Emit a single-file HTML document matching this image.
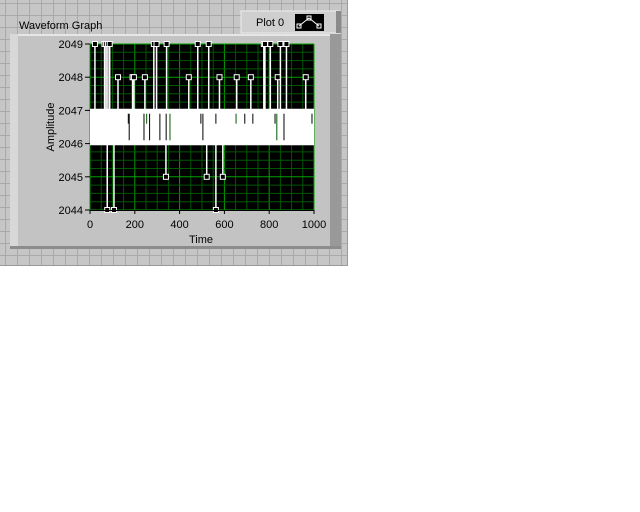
<!DOCTYPE html>
<html><head><meta charset="utf-8">
<style>
html,body{margin:0;padding:0;background:#fff;width:640px;height:512px;overflow:hidden;font-family:"Liberation Sans",sans-serif;}
#bg{position:absolute;left:0;top:0;width:347px;height:265px;background-color:#c6c6c6;
background-image:linear-gradient(to right,#a9a9a9 1px,transparent 1px),linear-gradient(to bottom,#a9a9a9 1px,transparent 1px);
background-size:12px 12px;background-position:5px 3px;border-right:1px solid #999;border-bottom:1px solid #999;}
</style></head><body>
<div id="bg"></div>
<svg width="640" height="512" style="position:absolute;left:0;top:0">
  <text x="19" y="29" font-size="11" fill="#000">Waveform Graph</text>
  <g>
    <rect x="241" y="11" width="99" height="22" fill="#cfcfcf" stroke="#eee"/>
    <rect x="336" y="11" width="5" height="22" fill="#8a8a8a"/>
    <text x="256" y="26" font-size="11" fill="#000">Plot 0</text>
    <rect x="295" y="14" width="29" height="17" fill="#000"/>
    <polyline points="299,26 309,18 319,26" fill="none" stroke="#fff" stroke-width="1"/>
    <rect x="297" y="24" width="4" height="4" fill="none" stroke="#fff"/>
    <rect x="307" y="16" width="4" height="4" fill="none" stroke="#fff"/>
    <rect x="317" y="24" width="4" height="4" fill="none" stroke="#fff"/>
  </g>
  <g>
    <rect x="10" y="34" width="331" height="215" fill="#c3c3c3"/>
    <rect x="10" y="34" width="331" height="2" fill="#e6e6e6"/>
    <rect x="10" y="34" width="8" height="215" fill="#d8d8d8"/>
    <rect x="330" y="34" width="11" height="215" fill="#999"/>
    <rect x="10" y="246" width="331" height="3" fill="#8c8c8c"/>
  </g>
  <g id="plot"></g>
  <text x="54" y="127" font-size="11" fill="#000" text-anchor="middle" transform="rotate(-90 54 127)">Amplitude</text>
  <text x="201" y="243" font-size="11" fill="#000" text-anchor="middle">Time</text>
</svg>
<script>
const xTicks=[0,200,400,600,800,1000];
const yTicks=[2044,2045,2046,2047,2048,2049];
const spikeTimes=[22,65,72,80,88,285,297,342,481,530,776,781,805,850,877,125,190,196,245,441,578,655,718,838,963,339,521,593,77,107,562];
const spikeValues=[2049,2049,2049,2049,2049,2049,2049,2049,2049,2049,2049,2049,2049,2049,2049,2048,2048,2048,2048,2048,2048,2048,2048,2048,2048,2045,2045,2045,2044,2044,2044];
const gapTimes=[171,175,241,253,266,312,340,357,495,504,562,652,691,727,826,834,866,991];
const gapLow=[2046.6,2046.1,2046.1,2046.6,2046.1,2046.1,2046.1,2046.1,2046.6,2046.1,2046.6,2046.6,2046.6,2046.6,2046.6,2046.1,2046.1,2046.6];
const X0=90,X1=314,Y0=210,Y1=44;
const sx=t=>X0+(t-0)/1000*(X1-X0);
const sy=v=>Y0-(v-2044)/5*(Y0-Y1);
const NS="http://www.w3.org/2000/svg";
const g=document.getElementById('plot');
function mk(tag,a){const e=document.createElementNS(NS,tag);for(const k in a)e.setAttribute(k,a[k]);g.appendChild(e);return e;}
let e=mk('rect',{x:X0,y:Y1,width:X1-X0,height:Y0-Y1,fill:'#000'});


for(let t=0;t<=1000;t+=50){const maj=t%200===0;e=mk('line',{x1:sx(t),x2:sx(t),y1:Y1,y2:Y0,stroke:maj?'#00a000':'#005800','stroke-width':1});

}
for(let v=2044;v<=2049.001;v+=0.25){const maj=Math.abs(v-Math.round(v))<1e-6;e=mk('line',{x1:X0,x2:X1,y1:sy(v),y2:sy(v),stroke:maj?'#00a000':'#005800','stroke-width':1});

}
// base band of noisy data between 2046 and 2047
e=mk('rect',{x:X0,y:sy(2047.05),width:X1-X0,height:sy(2045.95)-sy(2047.05),fill:'#fff'});


gapTimes.forEach((t,i)=>{e=mk('line',{x1:sx(t),x2:sx(t),y1:sy(2046.9),y2:sy(gapLow[i]),stroke:(i%4===3)?'#005800':'#000','stroke-width':1});

});
spikeTimes.forEach((t,i)=>{const v=spikeValues[i];const base=v>2047?2047:2046;
e=mk('line',{x1:sx(t),x2:sx(t),y1:sy(base),y2:sy(v),stroke:'#fff','stroke-width':1.5});


e=mk('rect',{x:sx(t)-2.5,y:sy(v)-2.5,width:5,height:5,fill:'#000',stroke:'#fff','stroke-width':1});

});
// axes
e=mk('line',{x1:X0,x2:X1,y1:Y0+0.5,y2:Y0+0.5,stroke:'#000'});


xTicks.forEach(t=>{e=mk('line',{x1:sx(t),x2:sx(t),y1:Y0,y2:Y0+4,stroke:'#000'});


e=mk('text',{x:sx(t),y:Y0+18,'font-size':11,'text-anchor':'middle',fill:'#000'});e.textContent=t;

});
yTicks.forEach(v=>{e=mk('line',{x1:X0-5,x2:X0,y1:sy(v),y2:sy(v),stroke:'#000'});


e=mk('text',{x:X0-7,y:sy(v)+4,'font-size':11,'text-anchor':'end',fill:'#000'});e.textContent=v;

});
</script>
</body></html>
